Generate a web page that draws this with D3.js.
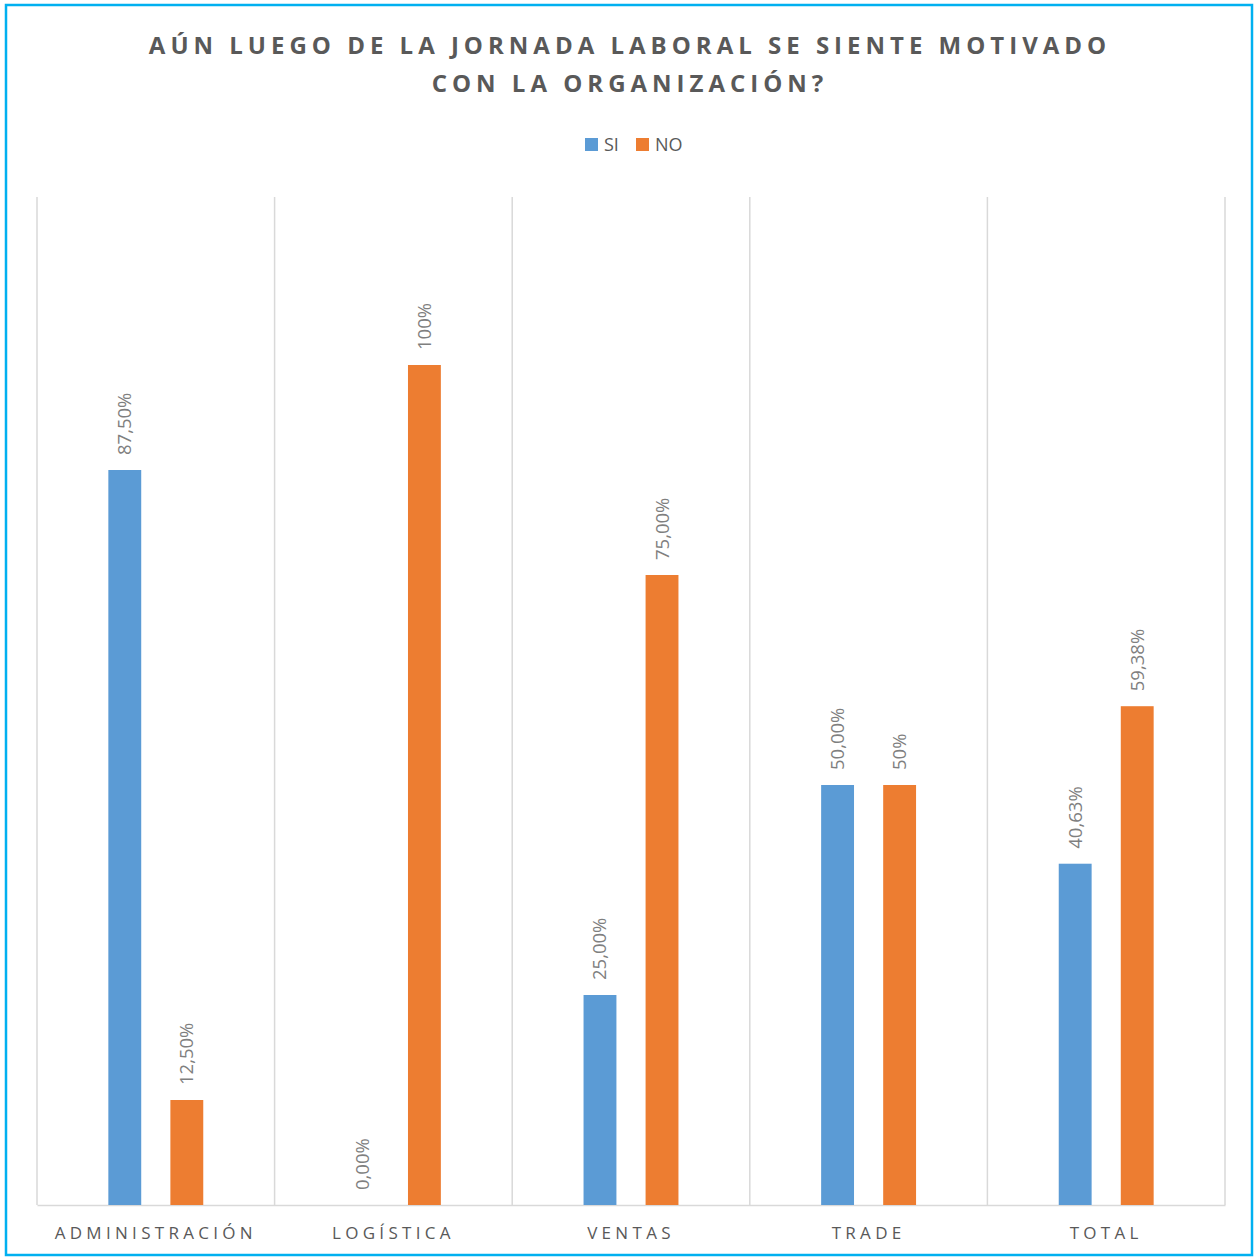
<!DOCTYPE html>
<html>
<head>
<meta charset="utf-8">
<script src="https://cdn.jsdelivr.net/npm/d3@7"></script>
<style>
  html, body { margin: 0; padding: 0; background: #fff; }
  svg { display: block; }
</style>
</head>
<body>
<svg id="chart" width="1257" height="1258"></svg>
<script>
const categories = ["ADMINISTRACIÓN", "LOGÍSTICA", "VENTAS", "TRADE", "TOTAL"];
const seriesNames = ["SI", "NO"];
const siValues = [87.5, 0, 25, 50, 40.63];
const noValues = [12.5, 100, 75, 50, 59.38];
const siLabels = ["87,50%", "0,00%", "25,00%", "50,00%", "40,63%"];
const noLabels = ["12,50%", "100%", "75,00%", "50%", "59,38%"];
const colors = ["#5B9BD5", "#ED7D31"];
const titleLines = ["AÚN LUEGO DE LA JORNADA LABORAL SE SIENTE MOTIVADO", "CON LA ORGANIZACIÓN?"];

const svg = d3.select("#chart");
const W = 1257, H = 1258;
const textColor = "#595959";
const labelColor = "#7F7F7F";
const font = "'Open Sans', sans-serif";

// outer frame
svg.append("rect")
  .attr("x", 6).attr("y", 5).attr("width", W - 11).attr("height", H - 8)
  .attr("fill", "#fff").attr("stroke", "#00B0F0").attr("stroke-width", 2.5);

// title
svg.append("g").selectAll("text").data(titleLines).join("text")
  .attr("x", 630).attr("y", (d, i) => 54 + i * 38)
  .attr("text-anchor", "middle")
  .attr("font-family", font).attr("font-weight", 700).attr("font-size", 24)
  .attr("letter-spacing", 5)
  .attr("fill", textColor)
  .text(d => d);

// plot area
const margin = { left: 37, right: 1225, top: 197, bottom: 1205 };
const x0 = d3.scaleBand().domain(categories).range([margin.left, margin.right]).paddingInner(0).paddingOuter(0);
const x1 = d3.scaleBand().domain(seriesNames).range([0, x0.bandwidth()]).paddingInner(0.47).paddingOuter(1.15);
const y = d3.scaleLinear().domain([0, 120]).range([margin.bottom, margin.top]);

// vertical category separators
const seps = categories.map(c => x0(c)).concat([margin.right]);
svg.append("g").selectAll("line").data(seps).join("line")
  .attr("x1", d => d).attr("x2", d => d)
  .attr("y1", margin.top).attr("y2", margin.bottom)
  .attr("stroke", "#D9D9D9").attr("stroke-width", 1.5);

// baseline axis
const xAxis = svg.append("g")
  .attr("transform", `translate(0,${margin.bottom})`)
  .call(d3.axisBottom(x0).tickSize(0).tickPadding(22));
xAxis.select(".domain").attr("stroke", "#D9D9D9").attr("stroke-width", 1.5);
xAxis.selectAll("text")
  .attr("font-family", font).attr("font-size", 17)
  .attr("letter-spacing", 4.3)
  .attr("fill", textColor);

// bars
const data = categories.map((c, i) => ({
  cat: c,
  vals: [
    { s: "SI", v: siValues[i], label: siLabels[i], color: colors[0] },
    { s: "NO", v: noValues[i], label: noLabels[i], color: colors[1] }
  ]
}));

const groups = svg.append("g").selectAll("g").data(data).join("g")
  .attr("transform", d => `translate(${x0(d.cat)},0)`);

groups.selectAll("rect").data(d => d.vals).join("rect")
  .attr("x", d => x1(d.s)).attr("width", x1.bandwidth())
  .attr("y", d => y(d.v)).attr("height", d => y(0) - y(d.v))
  .attr("fill", d => d.color);

groups.selectAll("text").data(d => d.vals).join("text")
  .attr("transform", d => `translate(${x1(d.s) + x1.bandwidth() / 2 + 6.5},${y(d.v) - 15}) rotate(-90)`)
  .attr("font-family", font).attr("font-size", 18.5)
  .attr("fill", labelColor)
  .text(d => d.label);

// legend
const legend = svg.append("g").attr("transform", "translate(585,138)");
const items = [{ name: "SI", x: 0 }, { name: "NO", x: 51 }];
items.forEach((it, i) => {
  legend.append("rect").attr("x", it.x).attr("y", 0).attr("width", 13).attr("height", 13).attr("fill", colors[i]);
  legend.append("text").attr("x", it.x + 19).attr("y", 13)
    .attr("font-family", font).attr("font-size", 18).attr("fill", textColor)
    .text(it.name);
});
</script>
</body>
</html>
